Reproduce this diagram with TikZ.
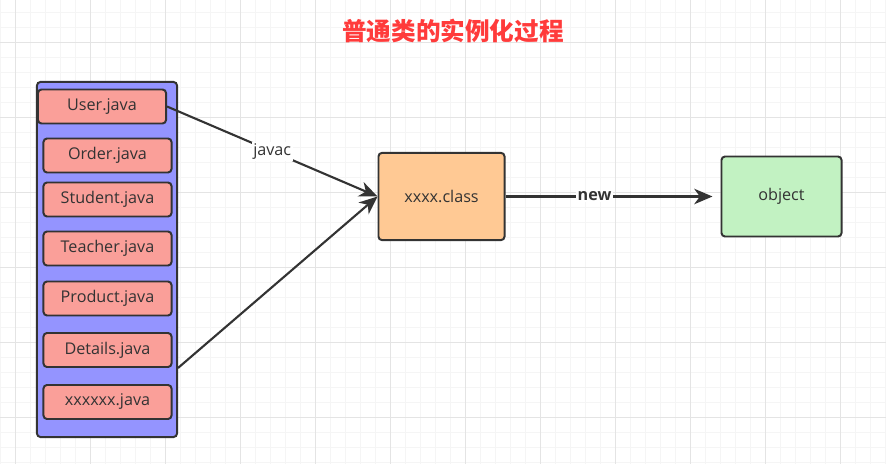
\documentclass[tikz,border=0pt]{standalone}
\usepackage{fontspec}
\setmainfont{Open Sans}
\newfontfamily\cjk{Noto Sans CJK SC}
\usetikzlibrary{arrows.meta}
\definecolor{gridmin}{HTML}{F5F5F5}
\definecolor{gridmaj}{HTML}{E4E4E4}
\definecolor{boxline}{HTML}{333333}
\definecolor{listblue}{HTML}{9494FF}
\definecolor{filered}{HTML}{FA9F99}
\definecolor{classorange}{HTML}{FFC994}
\definecolor{objgreen}{HTML}{C2F2C2}
\definecolor{titlered}{HTML}{FF3B3B}

\begin{document}
\begin{tikzpicture}[x=0.025cm,y=-0.025cm,
  box/.style={draw=boxline,line width=1.4pt,rounded corners=2.5pt,inner sep=0pt,
    font=\fontsize{11.5}{13}\selectfont,text=boxline},
  file/.style={box,fill=filered,minimum width=3.2cm,minimum height=0.85cm},
  flow/.style={draw=boxline,line width=1.5pt,-{Stealth[length=13pt,width=11pt,inset=4pt]}},
  lbl/.style={fill=white,inner sep=1pt,font=\fontsize{11.5}{13}\selectfont,text=boxline}]
\useasboundingbox (0,0) rectangle (886,464);
\fill[white] (0,0) rectangle (886,464);
% grid
\foreach \x in {0,15,...,885} {
  \draw[gridmin,line width=0.5pt] (\x,0) -- (\x,464);
}
\foreach \y in {12,27,...,464} {
  \draw[gridmin,line width=0.5pt] (0,\y) -- (886,\y);
}
\foreach \x in {15,90,...,885} {
  \draw[gridmaj,line width=0.6pt] (\x,0) -- (\x,464);
}
\foreach \y in {42,117,...,464} {
  \draw[gridmaj,line width=0.6pt] (0,\y) -- (886,\y);
}

\node[font=\cjk\bfseries\fontsize{17.5}{20}\selectfont,text=titlered] (title) at (453,31) {普通类的实例化过程};

% source files
\node[box,fill=listblue,minimum width=3.5cm,minimum height=8.875cm] (list) at (107,259.5) {};
\node[file] (user) at (102,106.5) {User.java};
\foreach \name/\y/\txt in {order/155.5/Order.java,student/199.5/Student.java,
    teacher/248.5/Teacher.java,product/298.5/Product.java,
    details/350/Details.java,other/402/xxxxxx.java} {
  \node[file] (\name) at (107.5,\y) {\txt};
}

\node[box,fill=classorange,minimum width=3.15cm,minimum height=2.18cm] (cls) at (441.5,196.5) {xxxx.class};
\node[box,fill=objgreen,minimum width=3.0cm,minimum height=2.0cm] (obj) at (781.5,196.5) {object};

\draw[flow] (user.east) -- node[lbl] {javac} (cls.west);
\draw[flow] (details.south -| list.east) -- (cls.west);
\draw[flow] (cls.east) -- node[lbl,pos=0.43,font=\bfseries\fontsize{11.5}{13}\selectfont] {new} ([xshift=-0.2cm]obj.west);
\end{tikzpicture}
\end{document}
